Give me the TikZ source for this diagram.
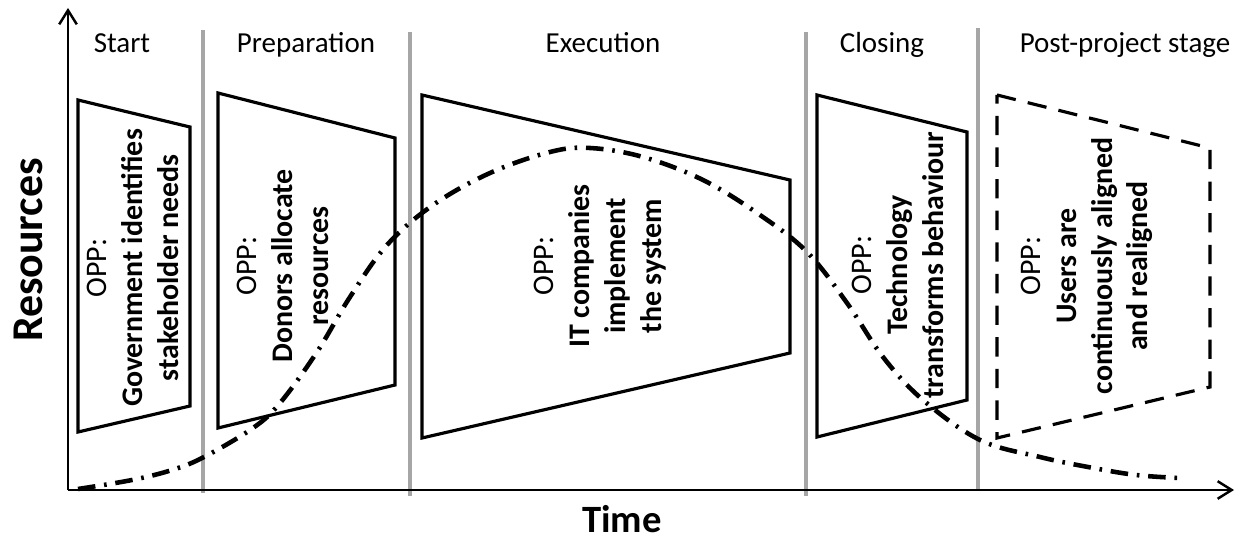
\documentclass[tikz,border=0pt]{standalone}
\usepackage{fontspec}
\setmainfont{Carlito}
\usepackage{xcolor}
\usepackage{tikz}
\usetikzlibrary{arrows.meta, positioning, calc}

\definecolor{sepgray}{RGB}{166,166,166}

\begin{document}
\begin{tikzpicture}[
    x=0.02cm, y=-0.02cm,
    axis/.style={-{Straight Barb[length=8pt,width=10pt,line width=1.4pt]}, line width=1.6pt},
    phase/.style={line width=2.8pt, sepgray},
    oppbox/.style={draw, line width=1.8pt, line join=miter},
    oppdash/.style={oppbox, dash pattern=on 11pt off 7pt},
    stage/.style={anchor=base, font=\fontsize{16.5}{20}\selectfont},
    opptext/.style={rotate=90, align=center, font=\fontsize{17}{20.4}\selectfont\bfseries},
    resline/.style={line width=2.6pt, dash pattern=on 10pt off 5pt on 1.5pt off 5pt}
]
  \useasboundingbox (0,0) rectangle (1247,540);

  % Phase separators
  \draw[phase] (203,30) -- (203,493);
  \draw[phase] (410,32) -- (410,496);
  \draw[phase] (806,32) -- (806,496);
  \draw[phase] (978,28) -- (978,489);

  % Axes
  \coordinate (origin) at (68,490);
  \coordinate (ytop) at (68,8);
  \coordinate (xend) at (1234,490);
  \draw[axis] (origin) -- (ytop);
  \draw[axis] (origin) -- (xend);
  \node[rotate=90, font=\fontsize{25}{30}\selectfont\bfseries] (resources) at (28,250) {Resources};
  \node[anchor=base, inner sep=0pt, font=\fontsize{22}{26}\selectfont\bfseries] (time) at (622,532) {Time};

  % Stage names
  \node[stage] (start) at (122,53) {Start};
  \node[stage] (prep) at (306,53) {Preparation};
  \node[stage] (exec) at (603,53) {Execution};
  \node[stage] (closing) at (882,53) {Closing};
  \node[stage] (post) at (1125,53) {Post-project stage};

  % OPP boxes
  \draw[oppbox] (78,100) -- (190,127) -- (190,406) -- (78,432) -- cycle;
  \draw[oppbox] (218,93) -- (395,138) -- (395,385) -- (218,428) -- cycle;
  \draw[oppbox] (422,95) -- (790,180) -- (790,353) -- (422,438) -- cycle;
  \draw[oppbox] (817,95) -- (967,132) -- (967,400) -- (817,437) -- cycle;
  \draw[oppdash] (997,95) -- (1210,148) -- (1210,387) -- (997,438) -- cycle;

  % Resource curve
  \draw[resline] plot[smooth, tension=0.6] coordinates {
    (78,489) (132,480) (172,470) (204,457) (253,428) (280,403) (317,352)
    (350,297) (387,245) (433,205) (490,173) (550,152) (590,148) (643,157)
    (703,180) (760,215) (807,252) (847,303) (883,357) (923,400) (980,440)
    (1040,457) (1088,467) (1136,475) (1180,478)};

  % OPP texts
  \node[opptext] (oppStart) at (133,268) {{\mdseries OPP:}\\Government identifies\\stakeholder needs};
  \node[opptext] (oppPrep) at (283,266) {{\mdseries OPP:}\\Donors allocate\\resources};
  \node[opptext] (oppExec) at (600,266) {{\mdseries OPP:}\\IT companies\\implement\\the system};
  \node[opptext] (oppClosing) at (898,265) {{\mdseries OPP:}\\Technology\\transforms behaviour};
  \node[opptext] (oppPost) at (1087,266) {{\mdseries OPP:}\\Users are\\continuously aligned\\and realigned};
\end{tikzpicture}
\end{document}
